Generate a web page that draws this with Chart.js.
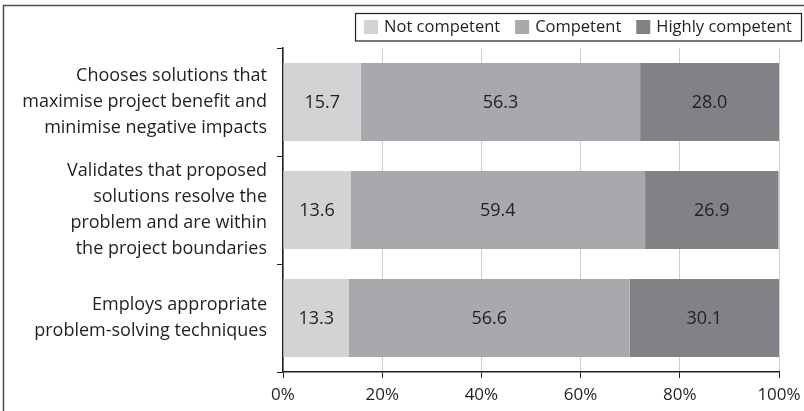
<!DOCTYPE html>
<html>
<head>
<meta charset="utf-8">
<script src="https://cdn.jsdelivr.net/npm/chart.js@4"></script>
<style>
  html, body { margin: 0; padding: 0; background: #fff; }
  canvas { display: block; }
</style>
</head>
<body>
<canvas id="competenceChart" width="804" height="411"></canvas>
<script>
// chart data
const categories = [
  ["Chooses solutions that", "maximise project benefit and", "minimise negative impacts"],
  ["Validates that proposed", "solutions resolve the", "problem and are within", "the project boundaries"],
  ["Employs appropriate", "problem-solving techniques"]
];
const seriesNames = ["Not competent", "Competent", "Highly competent"];
const notCompetent = [15.7, 13.6, 13.3];
const competent = [56.3, 59.4, 56.6];
const highlyCompetent = [28.0, 26.9, 30.1];
const xTicks = [0, 20, 40, 60, 80, 100];

const colors = ["#d1d3d4", "#a7a9ac", "#808285"];
const textColor = "#231f20";
const fontFamily = "'Open Sans', 'Noto Sans', sans-serif";

// white background, frame, legend box and value labels
const framePlugin = {
  id: "frame",
  beforeDraw(chart) {
    const ctx = chart.ctx;
    ctx.save();
    ctx.fillStyle = "#fff";
    ctx.fillRect(0, 0, chart.width, chart.height);
    ctx.strokeStyle = "#4d4d4d";
    ctx.lineWidth = 1.5;
    ctx.beginPath();
    ctx.moveTo(3.5, chart.height);
    ctx.lineTo(3.5, 5.5);
    ctx.lineTo(chart.width, 5.5);
    ctx.stroke();
    ctx.restore();
  },
  afterDraw(chart) {
    const ctx = chart.ctx;
    ctx.save();
    ctx.font = "16.5px " + fontFamily;
    ctx.textBaseline = "middle";
    const box = 14, gap = 6, itemGap = 15;
    const widths = seriesNames.map((n) => ctx.measureText(n).width);
    let total = 0;
    widths.forEach((w, i) => { total += box + gap + w + (i < widths.length - 1 ? itemGap : 0); });
    let x = 792 - total;
    const yMid = 27;
    // legend border
    ctx.strokeStyle = "#231f20";
    ctx.lineWidth = 1.2;
    ctx.strokeRect(x - 8.5, 13.5, 802 - (x - 8), 27.5);
    seriesNames.forEach((n, i) => {
      ctx.fillStyle = colors[i];
      ctx.fillRect(x, yMid - 7, box, box);
      ctx.fillStyle = textColor;
      ctx.fillText(n, x + box + gap, yMid);
      x += box + gap + widths[i] + itemGap;
    });
    ctx.restore();
  },
  afterDatasetsDraw(chart) {
    const ctx = chart.ctx;
    ctx.save();
    ctx.font = "18px " + fontFamily;
    ctx.fillStyle = textColor;
    ctx.textAlign = "center";
    ctx.textBaseline = "middle";
    chart.data.datasets.forEach((ds, di) => {
      chart.getDatasetMeta(di).data.forEach((bar, i) => {
        const c = bar.getCenterPoint();
        ctx.fillText(ds.data[i].toFixed(1), c.x, c.y + 1);
      });
    });
    ctx.restore();
  }
};

const ctx = document.getElementById("competenceChart").getContext("2d");
const competenceChart = new Chart(ctx, {
  type: "bar",
  data: {
    labels: categories,
    datasets: [notCompetent, competent, highlyCompetent].map((d, i) => ({
      label: seriesNames[i],
      data: d,
      backgroundColor: colors[i],
      borderWidth: 0,
      categoryPercentage: 1,
      barPercentage: 0.72
    }))
  },
  options: {
    indexAxis: "y",
    responsive: false,
    animation: false,
    devicePixelRatio: 1,
    layout: { padding: { top: 48, right: 25, left: 0, bottom: 0 } },
    plugins: {
      legend: { display: false },
      tooltip: { enabled: false }
    },
    scales: {
      x: {
        stacked: true,
        min: 0,
        max: 100,
        afterBuildTicks(scale) {
          scale.ticks = xTicks.map((v) => ({ value: v }));
        },
        afterFit(scale) {
          scale.height = 39;
          scale.paddingLeft = 0;
          scale.paddingRight = 0;
        },
        grid: {
          color: "#cfcfcf",
          lineWidth: 1,
          tickColor: "#231f20",
          tickLength: 6,
          drawTicks: true
        },
        border: { color: "#231f20", width: 1.5 },
        ticks: {
          color: textColor,
          padding: 7,
          font: { family: fontFamily, size: 17 },
          callback: (v) => v + "%"
        }
      },
      y: {
        stacked: true,
        afterFit(scale) {
          scale.width = 283;
          // the tall multi-line labels sit well inside their bands
          scale.paddingTop = 0;
          scale.paddingBottom = 0;
        },
        grid: {
          offset: true,
          drawOnChartArea: false,
          tickColor: "#231f20",
          tickLength: 6
        },
        border: { color: "#231f20", width: 1.5 },
        ticks: {
          color: textColor,
          padding: 10,
          font: { family: fontFamily, size: 18, lineHeight: 1.45 }
        }
      }
    }
  },
  plugins: [framePlugin]
});
</script>
</body>
</html>
